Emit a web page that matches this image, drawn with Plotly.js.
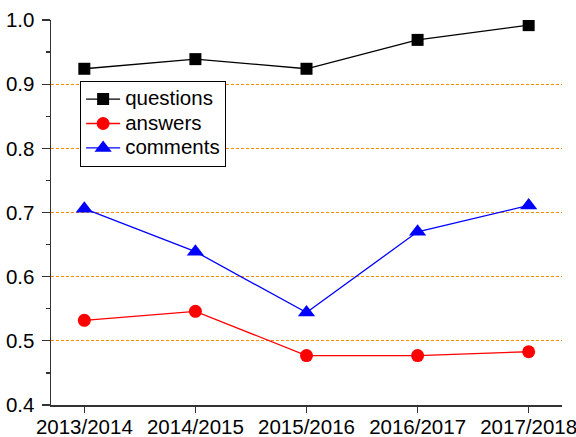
<!DOCTYPE html>
<html>
<head>
<meta charset="utf-8">
<script src="https://cdn.plot.ly/plotly-3.0.1.min.js"></script>
<style>html,body{margin:0;padding:0;background:#fff;}</style>
</head>
<body>
<div id="chart" style="width:576px;height:437px;"></div>
<script>
var years = ["2013/2014", "2014/2015", "2015/2016", "2016/2017", "2017/2018"];
var questions = [0.924, 0.939, 0.924, 0.969, 0.992];
var answers = [0.532, 0.546, 0.477, 0.477, 0.483];
var comments = [0.706, 0.639, 0.544, 0.670, 0.711];
var seriesNames = ["questions", "answers", "comments"];
var gridVals = [0.5, 0.6, 0.7, 0.8, 0.9];
var yTicks = [0.4, 0.5, 0.6, 0.7, 0.8, 0.9, 1.0];
var yTickText = ["0.4", "0.5", "0.6", "0.7", "0.8", "0.9", "1.0"];

var FONT = "Liberation Sans, Arial, sans-serif";
function legName(s) { return '<span style="font-size:20.5px">' + s + '</span>'; }

var traces = [
  {x: years, y: questions, name: legName(seriesNames[0]), type: "scatter", mode: "lines+markers",
   line: {color: "#000000", width: 1.3}, marker: {symbol: "square", size: 12, color: "#000000"}},
  {x: years, y: answers, name: legName(seriesNames[1]), type: "scatter", mode: "lines+markers",
   line: {color: "#ff0000", width: 1.3}, marker: {symbol: "circle", size: 13, color: "#ff0000"}},
  {x: years, y: comments, name: legName(seriesNames[2]), type: "scatter", mode: "lines+markers",
   line: {color: "#0000ff", width: 1.3}, marker: {symbol: "triangle-up", size: 15, color: "#0000ff"}},
  {x: years, y: gridVals.map(function(){return null;}), yaxis: "y2", showlegend: false,
   hoverinfo: "skip", type: "scatter", mode: "lines"}
];

var layout = {
  width: 576, height: 437,
  margin: {l: 51, r: 14, t: 20, b: 32},
  paper_bgcolor: "#ffffff", plot_bgcolor: "rgba(0,0,0,0)",
  font: {family: FONT, size: 20, color: "#000000"},
  showlegend: true,
  legend: {
    x: 0.057, y: 0.842, xanchor: "left", yanchor: "top",
    bgcolor: "#ffffff", bordercolor: "#000000", borderwidth: 1,
    font: {family: FONT, size: 16.5, color: "#000000"},
    tracegroupgap: 0, itemwidth: 34
  },
  xaxis: {
    type: "category", range: [-0.3, 4.3],
    showline: true, linecolor: "#333333", linewidth: 1.5,
    ticks: "outside", ticklen: 6, tickwidth: 1.3, tickcolor: "#333333",
    showgrid: false, zeroline: false,
    ticklabelstandoff: -3,
    tickfont: {family: FONT, size: 20.5, color: "#000000"}
  },
  yaxis: {
    range: [0.4, 1.0], tickvals: yTicks, ticktext: yTickText,
    showline: true, linecolor: "#333333", linewidth: 1.5,
    ticks: "outside", ticklen: 8, tickwidth: 1.3, tickcolor: "#333333",
    minor: {dtick: 0.05, ticks: "outside", ticklen: 4, tickwidth: 1.2, tickcolor: "#333333", showgrid: false},
    showgrid: false, zeroline: false,
    ticklabelstandoff: 3,
    tickfont: {family: FONT, size: 20.5, color: "#000000"}
  },
  yaxis2: {
    overlaying: "y", range: [0.4, 1.0], tickvals: gridVals,
    showticklabels: false, ticks: "", showline: false, zeroline: false,
    showgrid: true, gridcolor: "#ff8c00", gridwidth: 1, griddash: "3px,2px",
    layer: "below traces"
  }
};

Plotly.newPlot("chart", traces, layout, {displayModeBar: false, staticPlot: true});
</script>
</body>
</html>
